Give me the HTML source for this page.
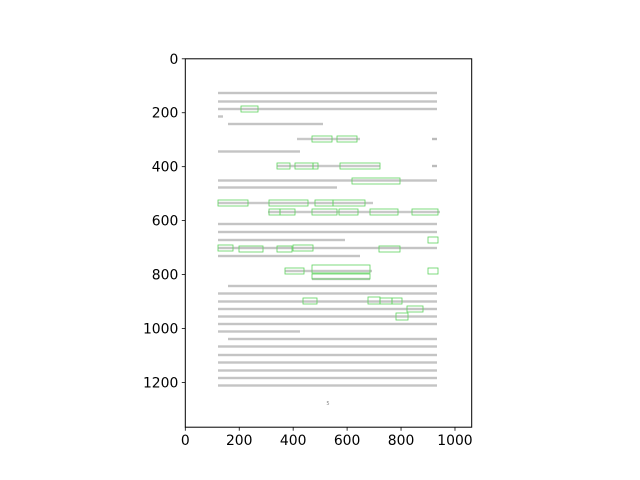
<!DOCTYPE html>
<html><head><meta charset="utf-8"><style>
html,body{margin:0;padding:0;background:#fff;}
svg{display:block;font-family:"DejaVu Sans","Liberation Sans",sans-serif;}
</style></head><body>
<svg id="chart" width="640" height="480" viewBox="0 0 640 480" xmlns="http://www.w3.org/2000/svg">
<rect width="640" height="480" fill="#fff"/>
<g id="doc"></g>
<g id="axes"></g>
</svg>
<script>
const xTicks=[0,200,400,600,800,1000];
const yTicks=[0,200,400,600,800,1000,1200];
const xMax=1062, yMax=1366;
// text lines: [y px, x start, x end]
const textLines=[[93,218,437],[101.5,218,437],[109,218,437],[116.5,218,223],[124,228,323],[151.5,218,300],[180.5,218,437],[187.5,218,337],[224,218,437],[232,218,437],[240,218,345],[248,218,437],[256,218,360],[286,228,437],[293.5,218,437],[301.5,218,437],[309,218,437],[316.5,218,437],[324,218,437],[331.5,218,300],[339,228,437],[346.5,218,437],[355,218,437],[362.5,218,437],[370.5,218,437],[378,218,437],[385.5,218,437]];
const eqLines=[[139,297,360],[166,277,380],[203,218,373],[212,268,440],[271,285,372],[279,312,370]];
const boxes=[[241,106,17,6],[312,136,20,6],[337,136,20,6],[277,163,13,6],[295,163,18,6],[313,163,5,6],[340,163,40,6],[352,178,48,6],[218,200,30,6],[269,200,39,6],[315,200,18,6],[333,200,32,6],[269,209,11,6],[280,209,15,6],[312,209,25,6],[339,209,19,6],[370,209,28,6],[412,209,26,6],[428,237,10,6],[218,245,15,6],[293,245,20,6],[239,246,24,6],[277,246,15,6],[379,246,21,6],[285,268,19,6],[312,265,58,8],[312,274,58,5],[428,268,10,6],[303,298,14,6],[368,297,12,7],[380,298,12,6],[392,298,10,6],[407,306,16,6],[396,313,12,7]];
const X0=185.3, Y0=58.8, W=286.4, H=368.4;
function sx(v){return X0+v/xMax*W;}
function sy(v){return Y0+v/yMax*H;}
const NS="http://www.w3.org/2000/svg";
function mk(t,a,p){const e=document.createElementNS(NS,t);for(const k in a)e.setAttribute(k,a[k]);p.appendChild(e);return e;}
const doc=document.getElementById('doc'), ax=document.getElementById('axes');
textLines.forEach(l=>{const r=mk('rect',{x:l[1],y:l[0]-1.2,width:l[2]-l[1],height:2.4,fill:'#c4c4c4'},doc);

});
eqLines.forEach(l=>{const r=mk('rect',{x:l[1],y:l[0]-1.2,width:l[2]-l[1],height:2.4,fill:'#c8c8c8'},doc);

});
[[432,139],[432,166]].forEach(p=>{const r=mk('rect',{x:p[0],y:p[1]-1.2,width:5,height:2.4,fill:'#bbb'},doc);

});
const pn=mk('text',{x:328,y:405,'font-size':5,fill:'#888','text-anchor':'middle'},doc);pn.textContent='5';


boxes.forEach(b=>{const r=mk('rect',{x:b[0],y:b[1],width:b[2],height:b[3],fill:'none',stroke:'#5fd35f','stroke-width':0.8},doc);

});
const fr=mk('rect',{x:X0,y:Y0,width:W,height:H,fill:'none',stroke:'#000','stroke-width':1},ax);


xTicks.forEach(v=>{const x=sx(v);
const t=mk('line',{x1:x,y1:Y0+H,x2:x,y2:Y0+H+3.5,stroke:'#000','stroke-width':0.8},ax);


const s=mk('text',{x:x,y:Y0+H+18,'font-size':13.9,'text-anchor':'middle',fill:'#000'},ax);s.textContent=v;

});
yTicks.forEach(v=>{const y=sy(v);
const t=mk('line',{x1:X0-3.5,y1:y,x2:X0,y2:y,stroke:'#000','stroke-width':0.8},ax);


const s=mk('text',{x:X0-7,y:y+5,'font-size':13.9,'text-anchor':'end',fill:'#000'},ax);s.textContent=v;

});
</script>
</body></html>
